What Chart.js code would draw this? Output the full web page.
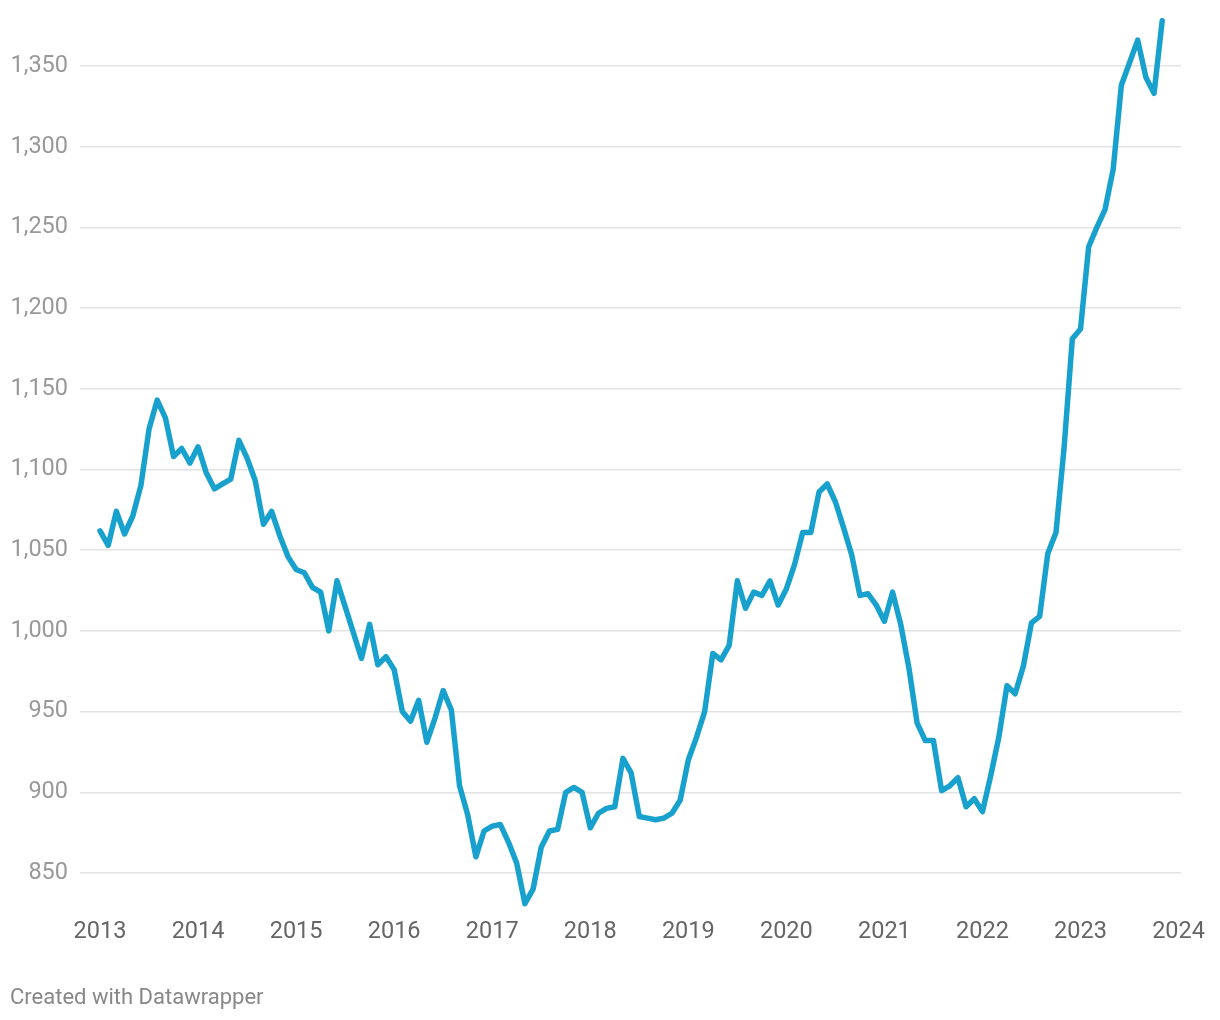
<!DOCTYPE html>
<html>
<head>
<meta charset="utf-8">
<script src="https://cdn.jsdelivr.net/npm/chart.js@4"></script>
<style>
  body { margin: 0; background: #fff; }
  #wrap { position: relative; width: 1220px; height: 1020px; }
  #footer {
    position: absolute; left: 10px; top: 984px;
    font-family: Roboto, sans-serif; font-size: 22px; color: #888;
  }
</style>
</head>
<body>
<div id="wrap">
  <canvas id="priceChart" width="1220" height="1020"></canvas>
  <div id="footer">Created with Datawrapper</div>
</div>
<script>
// monthly values, Jan 2013 - Nov 2023
var vals2013 = [1062, 1053, 1074, 1060, 1071, 1090, 1125, 1143, 1132, 1108, 1113, 1104];
var vals2014 = [1114, 1098, 1088, 1091, 1094, 1118, 1107, 1093, 1066, 1074, 1059, 1046];
var vals2015 = [1038, 1036, 1027, 1024, 1000, 1031, 1015, 999, 983, 1004, 979, 984];
var vals2016 = [976, 950, 944, 957, 931, 946, 963, 951, 904, 886, 860, 876];
var vals2017 = [879, 880, 869, 856, 831, 840, 866, 876, 877, 900, 903, 900];
var vals2018 = [878, 887, 890, 891, 921, 912, 885, 884, 883, 884, 887, 895];
var vals2019 = [920, 934, 950, 986, 982, 991, 1031, 1014, 1024, 1022, 1031, 1016];
var vals2020 = [1026, 1041, 1061, 1061, 1086, 1091, 1080, 1064, 1047, 1022, 1023, 1016];
var vals2021 = [1006, 1024, 1004, 977, 943, 932, 932, 901, 904, 909, 891, 896];
var vals2022 = [888, 910, 934, 966, 961, 978, 1005, 1009, 1048, 1061, 1114, 1181];
var vals2023 = [1187, 1238, 1250, 1261, 1286, 1338, 1352, 1366, 1343, 1333, 1378];

var yearLabels = ["2013", "2014", "2015", "2016", "2017", "2018", "2019", "2020", "2021", "2022", "2023", "2024"];
var yTicks = [850, 900, 950, 1000, 1050, 1100, 1150, 1200, 1250, 1300, 1350];

var values = [].concat(vals2013, vals2014, vals2015, vals2016, vals2017, vals2018,
                       vals2019, vals2020, vals2021, vals2022, vals2023);
var points = values.map(function (v, i) { return { x: i, y: v }; });

new Chart("priceChart", {
    type: "line",
    data: {
        datasets: [{
            data: points,
            borderColor: "#18a1cd",
            borderWidth: 5.5,
            pointRadius: 0,
            tension: 0,
            borderJoinStyle: "round",
            borderCapStyle: "round",
            clip: false
        }]
    },
    options: {
        responsive: false,
        animation: false,
        layout: {
            padding: { top: 18, right: 39, bottom: 0, left: 0 }
        },
        plugins: {
            legend: { display: false },
            tooltip: { enabled: false }
        },
        scales: {
            x: {
                type: "linear",
                min: -2.45,
                max: 132.3,
                afterBuildTicks: function (scale) {
                    scale.ticks = yearLabels.map(function (l, i) { return { value: i * 12 }; });
                },
                afterFit: function (scale) {
                    scale.height = 112;
                    scale.paddingLeft = 0;
                    scale.paddingRight = 0;
                },
                ticks: {
                    padding: 2,
                    color: "#666",
                    font: { family: "Roboto", size: 23.5 },
                    maxRotation: 0,
                    autoSkip: false,
                    callback: function (v) { return yearLabels[Math.round(v / 12)]; }
                },
                grid: { display: false },
                border: { display: false }
            },
            y: {
                min: 828.3,
                max: 1379.7,
                afterBuildTicks: function (scale) {
                    scale.ticks = yTicks.map(function (v) { return { value: v }; });
                },
                afterFit: function (scale) {
                    scale.width = 80;
                    scale.paddingTop = 0;
                    scale.paddingBottom = 0;
                },
                ticks: {
                    padding: 12,
                    color: "#999",
                    font: { family: "Roboto", size: 23.5 },
                    callback: function (v) { return v.toLocaleString("en-US"); }
                },
                grid: {
                    color: "#e3e3e3",
                    lineWidth: 1.5,
                    drawTicks: false
                },
                border: { display: false }
            }
        }
    }
});
</script>
</body>
</html>
